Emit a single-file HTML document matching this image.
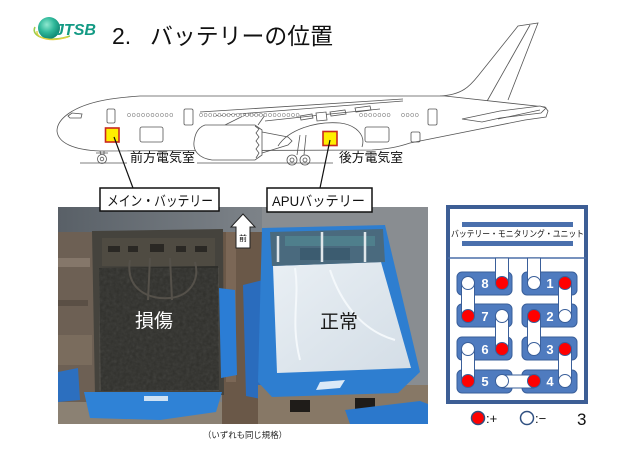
<!DOCTYPE html>
<html>
<head>
<meta charset="utf-8">
<style>
html,body{margin:0;padding:0;background:#fff;}
body{width:617px;height:450px;overflow:hidden;}
svg{display:block;}
</style>
</head>
<body>
<svg width="617" height="450" viewBox="0 0 617 450" xmlns="http://www.w3.org/2000/svg" font-family="'Liberation Sans','Noto Sans CJK JP',sans-serif">
<defs>
  <radialGradient id="glb" cx="40%" cy="35%" r="70%">
    <stop offset="0" stop-color="#8fe8d0"/>
    <stop offset="0.5" stop-color="#2fb89a"/>
    <stop offset="1" stop-color="#0b806c"/>
  </radialGradient>
  <linearGradient id="topband" x1="0" y1="0" x2="1" y2="0">
    <stop offset="0" stop-color="#596067"/>
    <stop offset="0.5" stop-color="#7a8086"/>
    <stop offset="1" stop-color="#8f9498"/>
  </linearGradient>
  <linearGradient id="wht" x1="0" y1="0" x2="1" y2="1">
    <stop offset="0" stop-color="#e9eff4"/>
    <stop offset="1" stop-color="#d3dde6"/>
  </linearGradient>
  <clipPath id="photo"><rect x="58" y="207" width="370" height="217"/></clipPath>
  <filter id="noise" x="0" y="0" width="100%" height="100%">
    <feTurbulence type="fractalNoise" baseFrequency="0.3" numOctaves="2" seed="4"/>
    <feColorMatrix type="saturate" values="0"/>
  </filter>
</defs>

<!-- Logo -->
<path d="M35 27 C 30 37 50 43 70 36" stroke="#9ccc4a" stroke-width="1.6" fill="none"/>
<circle cx="49" cy="28" r="11" fill="url(#glb)"/>
<path d="M37 31 C 36 39 52 42 68 37" stroke="#e0d040" stroke-width="1.4" fill="none"/>
<text x="55" y="35" font-size="16" font-style="italic" font-weight="bold" fill="#139a84" textLength="41" lengthAdjust="spacingAndGlyphs">JTSB</text>

<!-- Title -->
<text x="112" y="44" font-size="23" fill="#111">2.</text>
<text x="150" y="44" font-size="23" fill="#111" textLength="183" lengthAdjust="spacingAndGlyphs">バッテリーの位置</text>

<!-- Airplane -->
<g stroke="#555" stroke-width="0.8" fill="none">
  <path d="M440 96 C 462 95 470 86 478 76 L 518 26 L 538 23 L 508 100" fill="#fff"/>
  <path d="M530 25 L 486 103"/>
  <path d="M57 131 C 57 119 73 106 105 100 C 116 98 126 97 140 96 L 445 96 L 545 107 L 548 111 L 546 117 L 525 120 L 410 143 C 398 147 388 149 372 150 L 100 151 C 74 150 58 143 57 131 Z" fill="#fff"/>
  <path d="M68 116 L 72 113 L 82 114 L 81 118 L 70 118 Z"/>
  <path d="M462 119 L 500 111 L 540 106 L 546 108 L 541 113 L 500 118 L 482 122 Z" fill="#fff"/>
  <path d="M498 119 L 540 110"/>
  <path d="M200 112 L 403 99"/>
  <path d="M213 116 L 403 101"/>
  <path d="M265 121 L 330 114 L 380 109"/>
  <path d="M330 112 L 345 110 L 346 114 L 331 116 Z"/>
  <path d="M355 108 L 370 106 L 371 110 L 356 112 Z"/>
  <path d="M300 116 L 312 114 L 313 118 L 301 120 Z"/>
  <path d="M278 146 C 288 130 315 121 340 123 C 356 125 366 135 362 147" fill="#fff"/>
  <path d="M225 125 L 245 115 L 265 115 L 258 125"/>
  <path d="M205 125 L 255 125 L 262 130 L 262 155 L 255 160 L 212 160 C 198 158 193 150 194 142 C 195 133 199 127 205 125 Z" fill="#fff"/>
  <path d="M255 126 L 259 129 L 256 133 L 259 137 L 256 141 L 259 145 L 256 149 L 259 153 L 256 158"/>
  <path d="M262 132 L 288 137 L 292 141 L 288 145 L 262 153"/>
  <path d="M300 135 L 297 155 M 306 135 L 304 155"/>
  <path d="M316 113 L 326 112 L 327 120 L 317 121 Z" fill="#fff"/>
  <circle cx="292" cy="160" r="5" fill="#fff"/><circle cx="292" cy="160" r="2"/>
  <circle cx="305" cy="160" r="5" fill="#fff"/><circle cx="305" cy="160" r="2"/>
  <path d="M100 151 L 101 155 M 104 151 L 104 155 M 96 153 L 108 153"/>
  <circle cx="102" cy="159" r="4.5" fill="#fff"/><circle cx="102" cy="159" r="1.8"/>
  <rect x="107" y="109" width="8" height="14" rx="1.5"/>
  <rect x="184" y="109" width="9" height="16" rx="1.5"/>
  <rect x="428" y="109" width="9" height="16" rx="1.5"/>
  <rect x="140" y="127" width="23" height="15" rx="2"/>
  <rect x="365" y="127" width="24" height="15" rx="2"/>
  <rect x="411" y="132" width="9" height="10" rx="1.5"/>
  <path d="M80 163 L 127 163 M 197 163 L 333 163"/>
</g>
<g stroke="#666" stroke-width="0.5" fill="#fff">
  <ellipse cx="129" cy="115" rx="1.5" ry="1.8"/><ellipse cx="133.7" cy="115" rx="1.5" ry="1.8"/><ellipse cx="138.4" cy="115" rx="1.5" ry="1.8"/><ellipse cx="143.1" cy="115" rx="1.5" ry="1.8"/><ellipse cx="147.8" cy="115" rx="1.5" ry="1.8"/><ellipse cx="152.5" cy="115" rx="1.5" ry="1.8"/><ellipse cx="157.2" cy="115" rx="1.5" ry="1.8"/><ellipse cx="161.9" cy="115" rx="1.5" ry="1.8"/><ellipse cx="166.6" cy="115" rx="1.5" ry="1.8"/><ellipse cx="171.3" cy="115" rx="1.5" ry="1.8"/>
  <ellipse cx="201" cy="115" rx="1.5" ry="1.8"/><ellipse cx="205.6" cy="115" rx="1.5" ry="1.8"/><ellipse cx="210.2" cy="115" rx="1.5" ry="1.8"/><ellipse cx="214.8" cy="115" rx="1.5" ry="1.8"/><ellipse cx="219.4" cy="115" rx="1.5" ry="1.8"/><ellipse cx="224" cy="115" rx="1.5" ry="1.8"/><ellipse cx="228.6" cy="115" rx="1.5" ry="1.8"/><ellipse cx="233.2" cy="115" rx="1.5" ry="1.8"/><ellipse cx="237.8" cy="115" rx="1.5" ry="1.8"/><ellipse cx="242.4" cy="115" rx="1.5" ry="1.8"/><ellipse cx="247" cy="115" rx="1.5" ry="1.8"/><ellipse cx="251.6" cy="115" rx="1.5" ry="1.8"/><ellipse cx="256.2" cy="115" rx="1.5" ry="1.8"/><ellipse cx="260.8" cy="115" rx="1.5" ry="1.8"/><ellipse cx="265.4" cy="115" rx="1.5" ry="1.8"/><ellipse cx="270" cy="115" rx="1.5" ry="1.8"/><ellipse cx="274.6" cy="115" rx="1.5" ry="1.8"/><ellipse cx="279.2" cy="115" rx="1.5" ry="1.8"/><ellipse cx="283.8" cy="115" rx="1.5" ry="1.8"/><ellipse cx="288.4" cy="115" rx="1.5" ry="1.8"/><ellipse cx="293" cy="115" rx="1.5" ry="1.8"/><ellipse cx="297.6" cy="115" rx="1.5" ry="1.8"/>
  <ellipse cx="361" cy="115" rx="1.5" ry="1.8"/><ellipse cx="365.6" cy="115" rx="1.5" ry="1.8"/><ellipse cx="370.2" cy="115" rx="1.5" ry="1.8"/><ellipse cx="374.8" cy="115" rx="1.5" ry="1.8"/><ellipse cx="379.4" cy="115" rx="1.5" ry="1.8"/><ellipse cx="384" cy="115" rx="1.5" ry="1.8"/><ellipse cx="388.6" cy="115" rx="1.5" ry="1.8"/>
  <ellipse cx="403" cy="115" rx="1.5" ry="1.8"/><ellipse cx="407.6" cy="115" rx="1.5" ry="1.8"/><ellipse cx="412.2" cy="115" rx="1.5" ry="1.8"/><ellipse cx="416.8" cy="115" rx="1.5" ry="1.8"/>
</g>

<rect x="105.5" y="128" width="13.5" height="14" fill="#ffee00" stroke="#c8281e" stroke-width="1.6"/>
<rect x="323" y="131.5" width="14" height="14" fill="#ffee00" stroke="#c8281e" stroke-width="1.6"/>
<path d="M114 137 L 133 188" stroke="#111" stroke-width="1.2"/>
<path d="M330 140 L 320 188" stroke="#111" stroke-width="1.2"/>
<text x="130" y="162" font-size="13" fill="#111" textLength="65" lengthAdjust="spacingAndGlyphs">前方電気室</text>
<text x="339" y="162" font-size="13" fill="#111" textLength="64" lengthAdjust="spacingAndGlyphs">後方電気室</text>

<!-- Photo -->
<g clip-path="url(#photo)">
  <rect x="58" y="207" width="370" height="217" fill="#7c8085"/>
  <rect x="58" y="207" width="370" height="28" fill="url(#topband)"/>
  <rect x="58" y="232" width="40" height="192" fill="#6d6054"/>
  <rect x="58" y="258" width="32" height="9" fill="#85776a"/>
  <rect x="58" y="300" width="30" height="6" fill="#5a4f45"/>
  <rect x="58" y="335" width="34" height="30" fill="#7a6c5d"/>
  <polygon points="58,372 78,368 80,400 58,402" fill="#2c6fbf"/>
  <rect x="58" y="402" width="200" height="22" fill="#8b8173"/>
  <rect x="222" y="232" width="42" height="192" fill="#6a5848"/>
  <rect x="226" y="232" width="10" height="150" fill="#7b6756"/>
  <!-- damaged box -->
  <polygon points="92,231 223,229 224,395 95,396" fill="#45433d"/>
  <polygon points="99,268 218,266 219,390 101,391" fill="#2f2f2b"/>
  <rect x="99" y="268" width="120" height="123" filter="url(#noise)" opacity="0.12"/>
  <rect x="102" y="238" width="113" height="28" fill="#4f4b42"/>
  <rect x="108" y="246" width="12" height="6" fill="#2a2824"/>
  <rect x="128" y="246" width="10" height="6" fill="#2a2824"/>
  <rect x="150" y="244" width="14" height="8" fill="#2a2824"/>
  <rect x="176" y="246" width="10" height="6" fill="#2a2824"/>
  <rect x="195" y="246" width="12" height="6" fill="#2a2824"/>
  <path d="M130 260 C 125 290 150 300 170 298 C 190 296 200 280 195 262" stroke="#55514a" stroke-width="2" fill="none"/>
  <path d="M150 258 L 148 300 M 170 258 L 172 300" stroke="#55514a" stroke-width="2" fill="none"/>
  <polygon points="219,288 235,290 237,375 221,378" fill="#2b7dd5"/>
  <polygon points="84,392 222,392 216,412 160,420 90,418" fill="#2f82d6"/>
  <rect x="144" y="396" width="24" height="5" fill="#cfe2f4"/>
  <polygon points="243,285 263,280 266,400 246,396" fill="#2a6cbd"/>
  <rect x="262" y="207" width="166" height="180" fill="#898d91"/>
  <rect x="258" y="385" width="170" height="39" fill="#877866"/>
  <rect x="290" y="400" width="20" height="12" fill="#1f1c19"/>
  <rect x="355" y="398" width="20" height="12" fill="#1f1c19"/>
  <polygon points="345,410 420,401 428,404 428,424 350,424" fill="#2b78cc"/>
  <!-- APU box -->
  <polygon points="262,228 385,225 420,372 398,393 272,397 258,382" fill="#2e7ed0"/>
  <polygon points="273,266 381,262 411,368 277,373" fill="url(#wht)"/>
  <polygon points="270,232 383,229 385,262 272,266" fill="#4a6a7e"/>
  <rect x="285" y="236" width="90" height="10" fill="#4f7f8c"/>
  <rect x="300" y="248" width="50" height="12" fill="#3c5c70"/>
  <path d="M278 236 L 278 262 M 322 232 L 322 262 M 365 232 L 365 262" stroke="#dfe6ea" stroke-width="2.5"/>
  <path d="M295 268 C 300 300 290 320 300 360 M 330 270 C 340 300 360 330 395 340" stroke="#f4f8fb" stroke-width="2" fill="none"/>
  <polygon points="320,382 345,380 340,388 316,390" fill="#dbe9f7"/>
</g>

<path d="M243 214 L 255 227 L 250 227 L 250 248 L 236 248 L 236 227 L 231 227 Z" fill="#fff" stroke="#222" stroke-width="1"/>
<text x="243" y="241" font-size="8" text-anchor="middle" fill="#111">前</text>

<rect x="100" y="188" width="119" height="23" fill="#fff" stroke="#111" stroke-width="1.5"/>
<text x="107" y="206" font-size="14" fill="#111" textLength="106" lengthAdjust="spacingAndGlyphs">メイン・バッテリー</text>
<rect x="267" y="188" width="105" height="24" fill="#fff" stroke="#111" stroke-width="1.5"/>
<text x="272" y="206" font-size="14" fill="#111" textLength="93" lengthAdjust="spacingAndGlyphs">APUバッテリー</text>

<text x="154" y="327" font-size="19" fill="#fff" text-anchor="middle" textLength="38" lengthAdjust="spacingAndGlyphs">損傷</text>
<text x="339" y="328" font-size="19" fill="#1a1a1a" text-anchor="middle" textLength="38" lengthAdjust="spacingAndGlyphs">正常</text>

<text x="203" y="438" font-size="8.5" fill="#222" textLength="84" lengthAdjust="spacingAndGlyphs">（いずれも同じ規格）</text>

<!-- Battery diagram -->
<rect x="448" y="207" width="138" height="195" fill="#fff" stroke="#3d5e95" stroke-width="4"/>
<line x1="448" y1="258" x2="586" y2="258" stroke="#4a6ea8" stroke-width="1.5"/>
<rect x="462" y="222" width="111" height="5" fill="#4a70ad"/>
<rect x="462" y="241" width="111" height="5" fill="#4a70ad"/>
<text x="451" y="237" font-size="9" fill="#111" textLength="133" lengthAdjust="spacingAndGlyphs">バッテリー・モニタリング・ユニット</text>

<g fill="#4f7bbf" stroke="#3a5f9a" stroke-width="1">
  <rect x="457" y="272" width="55" height="23" rx="5"/>
  <rect x="522" y="272" width="55" height="23" rx="5"/>
  <rect x="457" y="304" width="55" height="23" rx="5"/>
  <rect x="522" y="304" width="55" height="23" rx="5"/>
  <rect x="457" y="337" width="55" height="23" rx="5"/>
  <rect x="522" y="337" width="55" height="23" rx="5"/>
  <rect x="457" y="370" width="55" height="23" rx="5"/>
  <rect x="522" y="370" width="55" height="23" rx="5"/>
</g>
<g fill="#fff" stroke="#3a5f9a" stroke-width="1">
  <rect x="495.5" y="258" width="13" height="25"/>
  <rect x="527.5" y="258" width="13" height="25"/>
  <rect x="461.5" y="283" width="13" height="33"/>
  <rect x="558.5" y="283" width="13" height="33"/>
  <rect x="495.5" y="316" width="13" height="33"/>
  <rect x="527.5" y="316" width="13" height="33"/>
  <rect x="461.5" y="349" width="13" height="32"/>
  <rect x="558.5" y="349" width="13" height="32"/>
  <rect x="502" y="375" width="32" height="13"/>
</g>
<g stroke="#3a5f9a" stroke-width="1">
  <circle cx="468" cy="283" r="6.5" fill="#fff"/>
  <circle cx="502" cy="283" r="6.5" fill="#f00"/>
  <circle cx="534" cy="283" r="6.5" fill="#fff"/>
  <circle cx="565" cy="283" r="6.5" fill="#f00"/>
  <circle cx="468" cy="316" r="6.5" fill="#f00"/>
  <circle cx="502" cy="316" r="6.5" fill="#fff"/>
  <circle cx="534" cy="316" r="6.5" fill="#f00"/>
  <circle cx="565" cy="316" r="6.5" fill="#fff"/>
  <circle cx="468" cy="349" r="6.5" fill="#fff"/>
  <circle cx="502" cy="349" r="6.5" fill="#f00"/>
  <circle cx="534" cy="349" r="6.5" fill="#fff"/>
  <circle cx="565" cy="349" r="6.5" fill="#f00"/>
  <circle cx="468" cy="381" r="6.5" fill="#f00"/>
  <circle cx="502" cy="381" r="6.5" fill="#fff"/>
  <circle cx="534" cy="381" r="6.5" fill="#f00"/>
  <circle cx="565" cy="381" r="6.5" fill="#fff"/>
</g>
<g fill="#fff" font-size="13" font-weight="bold" text-anchor="middle">
  <text x="485" y="288">8</text>
  <text x="550" y="288">1</text>
  <text x="485" y="321">7</text>
  <text x="550" y="321">2</text>
  <text x="485" y="354">6</text>
  <text x="550" y="354">3</text>
  <text x="485" y="386">5</text>
  <text x="550" y="386">4</text>
</g>

<circle cx="478" cy="418" r="6.5" fill="#f00" stroke="#2f4f80" stroke-width="1.5"/>
<text x="486" y="423" font-size="13" fill="#111">:+</text>
<circle cx="527" cy="418" r="6.5" fill="#fff" stroke="#2f4f80" stroke-width="1.5"/>
<text x="535" y="423" font-size="13" fill="#111">:−</text>
<text x="577" y="425" font-size="17" fill="#111">3</text>
</svg>
</body>
</html>
